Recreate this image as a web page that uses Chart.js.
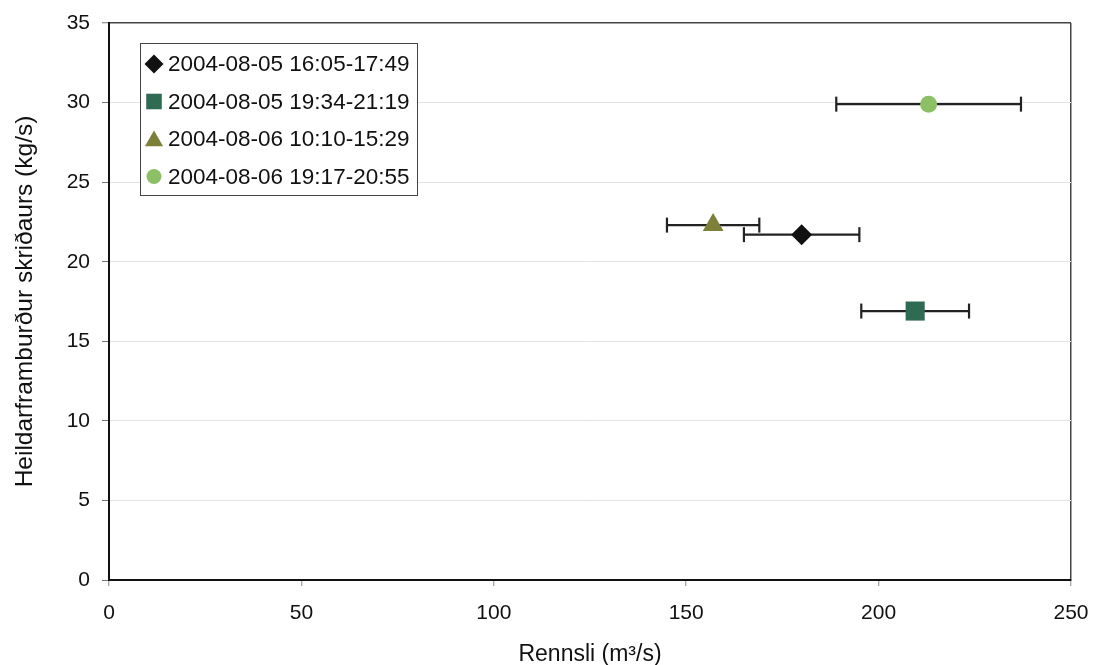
<!DOCTYPE html>
<html>
<head>
<meta charset="utf-8">
<script src="https://cdn.jsdelivr.net/npm/chart.js@4.4.1/dist/chart.umd.min.js"></script>
<style>
  html, body { margin: 0; padding: 0; background: #fff; }
  #wrap { position: relative; width: 1093px; height: 665px; }
</style>
</head>
<body>
<div id="wrap"><canvas id="c" width="1093" height="665"></canvas></div>
<script>
// Measurement periods
const periods = ['2004-08-05 16:05-17:49', '2004-08-05 19:34-21:19', '2004-08-06 10:10-15:29', '2004-08-06 19:17-20:55'];
// Discharge (m3/s) with lower/upper bounds of the error bar
const flow = [180, 209.5, 157, 213];
const flowLow = [165, 195.5, 145, 189];
const flowHigh = [195, 223.5, 169, 237];
// Total bedload transport (kg/s)
const load = [21.7, 16.9, 22.3, 29.9];

// Axis ticks
const xTicks = [0, 50, 100, 150, 200, 250];
const yTicks = [0, 5, 10, 15, 20, 25, 30, 35];

const styles = [
  { pointStyle: 'rectRot', radius: 10.5, color: '#111111', legendRadius: 9.5 },
  { pointStyle: 'rect', radius: 13.5, color: '#2e6b52', legendRadius: 11 },
  { pointStyle: 'triangle', radius: 12, color: '#7c8038', legendRadius: 10.5 },
  { pointStyle: 'circle', radius: 8.5, color: '#8dc064', legendRadius: 7.5 }
];

const FONT = '"Liberation Sans", Arial, sans-serif';

const datasets = [];
periods.forEach((label, i) => {
  const s = styles[i];
  datasets.push({
    label: label,
    data: [{ x: flow[i], y: load[i] }],
    pointStyle: s.pointStyle,
    pointRadius: s.radius,
    pointHoverRadius: s.radius,
    backgroundColor: s.color,
    borderColor: s.color,
    borderWidth: 0,
    order: 0
  });
  datasets.push({
    label: label + ' bil',
    data: [{ x: flowLow[i], y: load[i] }, { x: flowHigh[i], y: load[i] }],
    showLine: true,
    borderColor: '#222222',
    borderWidth: 2.2,
    pointStyle: 'line',
    pointRotation: 90,
    pointRadius: 7.5,
    pointHoverRadius: 7.5,
    pointBorderColor: '#222222',
    pointBorderWidth: 2.2,
    order: 1
  });
});

// Legend box drawn inside the plot area
const legendBox = {
  id: 'legendBox',
  afterDraw(chart) {
    const ctx = chart.ctx;
    const area = chart.chartArea;
    const bx = area.left + 31, by = area.top + 20, bw = 277, bh = 152;
    ctx.save();
    ctx.fillStyle = '#ffffff';
    ctx.fillRect(bx, by, bw, bh);
    ctx.strokeStyle = '#444444';
    ctx.lineWidth = 1;
    ctx.strokeRect(bx + 0.5, by + 0.5, bw, bh);
    ctx.font = '22.5px ' + FONT;
    ctx.textBaseline = 'middle';
    ctx.textAlign = 'left';
    periods.forEach((label, i) => {
      const s = styles[i];
      const cy = by + 21 + i * 37.5;
      const cx = bx + 14;
      ctx.fillStyle = s.color;
      ctx.strokeStyle = s.color;
      ctx.lineWidth = 0;
      Chart.helpers.drawPoint(ctx, { pointStyle: s.pointStyle, radius: s.legendRadius, rotation: 0, borderWidth: 0 }, cx, cy + (s.pointStyle === 'triangle' ? 2 : 0));
      ctx.fillStyle = '#111111';
      ctx.fillText(label, bx + 28, cy + 1);
    });
    ctx.restore();
  }
};

new Chart(document.getElementById('c'), {
  type: 'scatter',
  data: { datasets: datasets },
  plugins: [legendBox],
  options: {
    responsive: false,
    animation: false,
    layout: { padding: { top: 23, right: 22, left: 0, bottom: 0 } },
    plugins: {
      legend: { display: false },
      tooltip: { enabled: false }
    },
    scales: {
      x: {
        type: 'linear',
        min: 0,
        max: 250,
        afterFit(scale) {
          scale.height = 85;
          scale.paddingLeft = 0;
          scale.paddingRight = 0;
        },
        afterBuildTicks(scale) { scale.ticks = xTicks.map(v => ({ value: v })); },
        border: { display: true, color: '#111111', width: 2 },
        grid: {
          drawOnChartArea: true,
          color: (c) => (c.tick && c.tick.value === 250 ? '#444444' : 'rgba(0,0,0,0)'),
          lineWidth: 1.5,
          tickLength: 6,
          tickColor: '#888888',
          tickWidth: 1
        },
        ticks: {
          color: '#111111',
          font: { family: FONT, size: 21 },
          padding: 15,
          maxRotation: 0
        },
        title: {
          display: true,
          text: 'Rennsli (m³/s)',
          color: '#111111',
          font: { family: FONT, size: 23 },
          padding: { top: 0, bottom: -3 }
        }
      },
      y: {
        type: 'linear',
        min: 0,
        max: 35,
        afterFit(scale) {
          scale.width = 109;
          scale.paddingTop = 0;
          scale.paddingBottom = 0;
        },
        afterBuildTicks(scale) { scale.ticks = yTicks.map(v => ({ value: v })); },
        border: { display: true, color: '#111111', width: 2 },
        grid: {
          color: (c) => {
            if (!c.tick) return '#e2e2e2';
            if (c.tick.value === 35) return '#444444';
            return '#e2e2e2';
          },
          lineWidth: (c) => (c.tick && c.tick.value === 35 ? 1.5 : 1),
          tickLength: 7,
          tickColor: '#777777',
          tickWidth: 1
        },
        ticks: {
          color: '#111111',
          font: { family: FONT, size: 21 },
          padding: 12
        },
        title: {
          display: true,
          text: 'Heildarframburður skriðaurs (kg/s)',
          color: '#111111',
          font: { family: FONT, size: 24.5 },
          padding: { top: 11, bottom: 0 }
        }
      }
    }
  }
});
</script>
</body>
</html>
